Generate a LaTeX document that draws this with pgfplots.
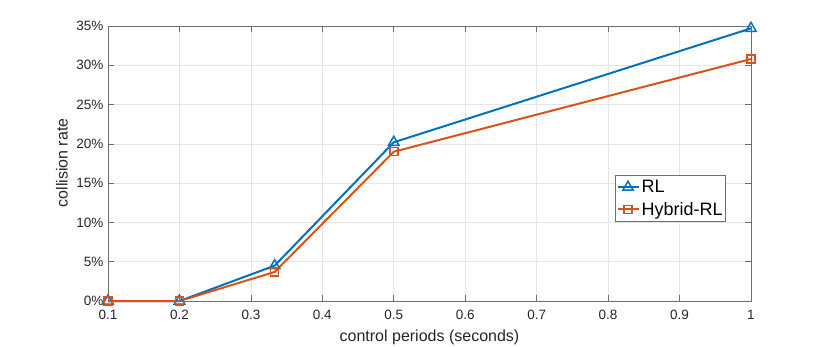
\documentclass[border=0pt]{standalone}
\usepackage{fontspec}
\setmainfont{Liberation Sans}
\usepackage{pgfplots}
\pgfplotsset{compat=1.18}
\definecolor{mblue}{RGB}{0,114,189}
\definecolor{morange}{RGB}{217,83,25}
\definecolor{maxis}{RGB}{110,110,110}
\begin{document}
\begin{tikzpicture}[x=1pt,y=1pt]
\path[use as bounding box] (0,0) rectangle (830,346);
\begin{axis}[
    at={(108pt,45pt)}, anchor=south west,
    scale only axis,
    width=643pt, height=275pt,
    xmin=0.1, xmax=1,
    ymin=0, ymax=35,
    xtick={0.1,0.2,0.3,0.4,0.5,0.6,0.7,0.8,0.9,1},
    xticklabels={0.1,0.2,0.3,0.4,0.5,0.6,0.7,0.8,0.9,1},
    ytick={0,5,10,15,20,25,30,35},
    yticklabels={0\%,5\%,10\%,15\%,20\%,25\%,30\%,35\%},
    tick align=inside,
    major tick length=6pt,
    tick style={maxis, line width=0.7pt},
    axis line style={maxis, line width=0.9pt},
    grid=major,
    grid style={black!10, line width=0.7pt},
    tick label style={font=\fontsize{13.5}{15}\selectfont, text=black!85},
    xticklabel style={yshift=-6pt},
    yticklabel style={xshift=-1pt},
    label style={font=\fontsize{16}{18}\selectfont, text=black!85},
    xlabel={control periods (seconds)},
    ylabel={collision rate},
    xlabel style={at={(axis description cs:0.5,-0.131)}, anchor=center},
    ylabel style={at={(axis description cs:-0.0715,0.502)}, anchor=center},
    legend style={at={(0.961,0.287)}, anchor=south east,
        font=\fontsize{18}{21}\selectfont, draw=maxis, line width=0.7pt,
        inner xsep=1pt, inner ysep=3pt, row sep=4pt},
    legend cell align={left},
    legend image code/.code={
        \draw[#1, mark repeat=2, mark phase=2]
            plot coordinates {(0pt,0pt) (10.5pt,0pt) (21pt,0pt)};
    },
    clip=false,
]
\addplot[color=mblue, line width=2pt, mark=triangle, mark size=6pt, mark options={line width=1.5pt}]
    coordinates {(0.1,0) (0.2,0) (0.3333,4.5) (0.5,20.2) (1,34.7)};
\addlegendentry{RL}
\addplot[color=morange, line width=2pt, mark=square, mark size=4pt, mark options={line width=1.5pt}]
    coordinates {(0.1,0) (0.2,0) (0.3333,3.7) (0.5,19.0) (1,30.8)};
\addlegendentry{Hybrid-RL}
\end{axis}
\end{tikzpicture}
\end{document}
